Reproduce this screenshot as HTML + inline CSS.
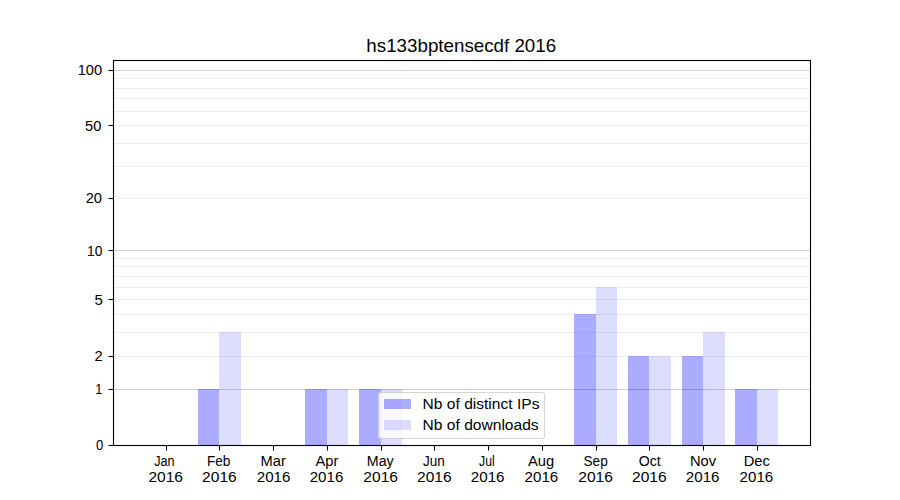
<!DOCTYPE html>
<html><head><meta charset="utf-8"><title>hs133bptensecdf 2016</title>
<style>html,body{margin:0;padding:0;background:#fff;overflow:hidden}svg{display:block}text{font-family:"Liberation Sans",sans-serif;fill:#000}</style></head><body>
<svg width="900" height="500" viewBox="0 0 900 500">
<rect x="0" y="0" width="900" height="500" fill="#ffffff"/>
<g stroke="#b0b0b0" stroke-width="1.11">
<line x1="112.5" y1="70.5" x2="810" y2="70.5" stroke-opacity="0.6"/>
<line x1="112.5" y1="250.5" x2="810" y2="250.5" stroke-opacity="0.6"/>
<line x1="112.5" y1="389.5" x2="810" y2="389.5" stroke-opacity="0.6"/>
<line x1="112.5" y1="78.5" x2="810" y2="78.5" stroke-opacity="0.2"/>
<line x1="112.5" y1="88.5" x2="810" y2="88.5" stroke-opacity="0.2"/>
<line x1="112.5" y1="98.5" x2="810" y2="98.5" stroke-opacity="0.2"/>
<line x1="112.5" y1="111.5" x2="810" y2="111.5" stroke-opacity="0.2"/>
<line x1="112.5" y1="125.5" x2="810" y2="125.5" stroke-opacity="0.2"/>
<line x1="112.5" y1="143.5" x2="810" y2="143.5" stroke-opacity="0.2"/>
<line x1="112.5" y1="166.5" x2="810" y2="166.5" stroke-opacity="0.2"/>
<line x1="112.5" y1="198.5" x2="810" y2="198.5" stroke-opacity="0.2"/>
<line x1="112.5" y1="258.5" x2="810" y2="258.5" stroke-opacity="0.2"/>
<line x1="112.5" y1="266.5" x2="810" y2="266.5" stroke-opacity="0.2"/>
<line x1="112.5" y1="276.5" x2="810" y2="276.5" stroke-opacity="0.2"/>
<line x1="112.5" y1="287.5" x2="810" y2="287.5" stroke-opacity="0.2"/>
<line x1="112.5" y1="299.5" x2="810" y2="299.5" stroke-opacity="0.2"/>
<line x1="112.5" y1="314.5" x2="810" y2="314.5" stroke-opacity="0.2"/>
<line x1="112.5" y1="332.5" x2="810" y2="332.5" stroke-opacity="0.2"/>
<line x1="112.5" y1="356.5" x2="810" y2="356.5" stroke-opacity="0.2"/>
</g>
<g shape-rendering="crispEdges" fill="#0000ff">
<rect x="198" y="389" width="21" height="56" fill-opacity="0.33"/>
<rect x="219" y="332" width="22" height="113" fill-opacity="0.133"/>
<rect x="305" y="389" width="22" height="56" fill-opacity="0.33"/>
<rect x="327" y="389" width="21" height="56" fill-opacity="0.133"/>
<rect x="359" y="389" width="22" height="56" fill-opacity="0.33"/>
<rect x="381" y="389" width="21" height="56" fill-opacity="0.133"/>
<rect x="574" y="314" width="22" height="131" fill-opacity="0.33"/>
<rect x="596" y="287" width="21" height="158" fill-opacity="0.133"/>
<rect x="628" y="356" width="21" height="89" fill-opacity="0.33"/>
<rect x="649" y="356" width="22" height="89" fill-opacity="0.133"/>
<rect x="682" y="356" width="21" height="89" fill-opacity="0.33"/>
<rect x="703" y="332" width="22" height="113" fill-opacity="0.133"/>
<rect x="735" y="389" width="22" height="56" fill-opacity="0.33"/>
<rect x="757" y="389" width="21" height="56" fill-opacity="0.133"/>
</g>
<rect x="113.5" y="60.5" width="697" height="385" fill="none" stroke="#000" stroke-width="1.11"/>
<g stroke="#000" stroke-width="1.11">
<line x1="108.5" y1="70.5" x2="113.5" y2="70.5"/>
<line x1="108.5" y1="125.5" x2="113.5" y2="125.5"/>
<line x1="108.5" y1="198.5" x2="113.5" y2="198.5"/>
<line x1="108.5" y1="250.5" x2="113.5" y2="250.5"/>
<line x1="108.5" y1="299.5" x2="113.5" y2="299.5"/>
<line x1="108.5" y1="356.5" x2="113.5" y2="356.5"/>
<line x1="108.5" y1="389.5" x2="113.5" y2="389.5"/>
<line x1="108.5" y1="445.5" x2="113.5" y2="445.5"/>
<line x1="166.5" y1="445.5" x2="166.5" y2="450.5"/>
<line x1="219.5" y1="445.5" x2="219.5" y2="450.5"/>
<line x1="273.5" y1="445.5" x2="273.5" y2="450.5"/>
<line x1="327.5" y1="445.5" x2="327.5" y2="450.5"/>
<line x1="381.5" y1="445.5" x2="381.5" y2="450.5"/>
<line x1="434.5" y1="445.5" x2="434.5" y2="450.5"/>
<line x1="488.5" y1="445.5" x2="488.5" y2="450.5"/>
<line x1="542.5" y1="445.5" x2="542.5" y2="450.5"/>
<line x1="596.5" y1="445.5" x2="596.5" y2="450.5"/>
<line x1="649.5" y1="445.5" x2="649.5" y2="450.5"/>
<line x1="703.5" y1="445.5" x2="703.5" y2="450.5"/>
<line x1="757.5" y1="445.5" x2="757.5" y2="450.5"/>
</g>
<rect x="378.5" y="392.5" width="166" height="46" rx="2.78" ry="2.78" fill="#ffffff" fill-opacity="0.8" stroke="#cccccc" stroke-opacity="0.8" stroke-width="1.11"/>
<g shape-rendering="crispEdges" fill="#0000ff">
<rect x="384" y="399" width="27" height="10" fill-opacity="0.33"/>
<rect x="384" y="420" width="27" height="10" fill-opacity="0.133"/>
</g>
<text x="461.25" y="52.20" font-size="17.67" text-anchor="middle" textLength="189.81" lengthAdjust="spacingAndGlyphs">hs133bptensecdf 2016</text>
<text x="103.20" y="450.00" font-size="14.72" text-anchor="end" textLength="7.27" lengthAdjust="spacingAndGlyphs">0</text>
<text x="102.40" y="393.66" font-size="14.72" text-anchor="end" textLength="7.13" lengthAdjust="spacingAndGlyphs">1</text>
<text x="102.80" y="360.70" font-size="14.72" text-anchor="end">2</text>
<text x="102.80" y="305.15" font-size="14.72" text-anchor="end" textLength="8.36" lengthAdjust="spacingAndGlyphs">5</text>
<text x="102.40" y="255.88" font-size="14.72" text-anchor="end" textLength="15.39" lengthAdjust="spacingAndGlyphs">10</text>
<text x="102.00" y="202.52" font-size="14.72" text-anchor="end">20</text>
<text x="101.30" y="131.19" font-size="14.72" text-anchor="end" textLength="16.26" lengthAdjust="spacingAndGlyphs">50</text>
<text x="102.10" y="74.85" font-size="14.72" text-anchor="end" textLength="24.37" lengthAdjust="spacingAndGlyphs">100</text>
<text x="164.40" y="466.00" font-size="14.72" text-anchor="middle" textLength="20.34" lengthAdjust="spacingAndGlyphs">Jan</text>
<text x="165.70" y="482.00" font-size="14.72" text-anchor="middle" textLength="34.65" lengthAdjust="spacingAndGlyphs">2016</text>
<text x="218.64" y="466.00" font-size="14.72" text-anchor="middle" textLength="23.46" lengthAdjust="spacingAndGlyphs">Feb</text>
<text x="219.44" y="482.00" font-size="14.72" text-anchor="middle" textLength="34.61" lengthAdjust="spacingAndGlyphs">2016</text>
<text x="273.17" y="466.00" font-size="14.72" text-anchor="middle">Mar</text>
<text x="273.57" y="482.00" font-size="14.72" text-anchor="middle" textLength="33.67" lengthAdjust="spacingAndGlyphs">2016</text>
<text x="326.91" y="466.00" font-size="14.72" text-anchor="middle">Apr</text>
<text x="326.51" y="482.00" font-size="14.72" text-anchor="middle" textLength="33.67" lengthAdjust="spacingAndGlyphs">2016</text>
<text x="380.25" y="466.00" font-size="14.72" text-anchor="middle" textLength="26.88" lengthAdjust="spacingAndGlyphs">May</text>
<text x="380.65" y="482.00" font-size="14.72" text-anchor="middle" textLength="34.65" lengthAdjust="spacingAndGlyphs">2016</text>
<text x="433.88" y="466.00" font-size="14.72" text-anchor="middle" textLength="21.81" lengthAdjust="spacingAndGlyphs">Jun</text>
<text x="434.38" y="482.00" font-size="14.72" text-anchor="middle" textLength="34.61" lengthAdjust="spacingAndGlyphs">2016</text>
<text x="486.92" y="466.00" font-size="14.72" text-anchor="middle" textLength="15.62" lengthAdjust="spacingAndGlyphs">Jul</text>
<text x="487.72" y="482.00" font-size="14.72" text-anchor="middle" textLength="33.67" lengthAdjust="spacingAndGlyphs">2016</text>
<text x="541.05" y="466.00" font-size="14.72" text-anchor="middle">Aug</text>
<text x="541.45" y="482.00" font-size="14.72" text-anchor="middle" textLength="33.67" lengthAdjust="spacingAndGlyphs">2016</text>
<text x="595.59" y="466.00" font-size="14.72" text-anchor="middle" textLength="24.31" lengthAdjust="spacingAndGlyphs">Sep</text>
<text x="595.59" y="482.00" font-size="14.72" text-anchor="middle" textLength="34.65" lengthAdjust="spacingAndGlyphs">2016</text>
<text x="649.73" y="466.00" font-size="14.72" text-anchor="middle" textLength="22.00" lengthAdjust="spacingAndGlyphs">Oct</text>
<text x="649.33" y="482.00" font-size="14.72" text-anchor="middle" textLength="34.61" lengthAdjust="spacingAndGlyphs">2016</text>
<text x="703.06" y="466.00" font-size="14.72" text-anchor="middle">Nov</text>
<text x="702.66" y="482.00" font-size="14.72" text-anchor="middle" textLength="33.67" lengthAdjust="spacingAndGlyphs">2016</text>
<text x="756.80" y="466.00" font-size="14.72" text-anchor="middle">Dec</text>
<text x="756.40" y="482.00" font-size="14.72" text-anchor="middle" textLength="33.67" lengthAdjust="spacingAndGlyphs">2016</text>
<text x="422.60" y="409.00" font-size="14.72" text-anchor="start" textLength="116.83" lengthAdjust="spacingAndGlyphs">Nb of distinct IPs</text>
<text x="422.60" y="430.00" font-size="14.72" text-anchor="start" textLength="116.05" lengthAdjust="spacingAndGlyphs">Nb of downloads</text>
</svg>
</body></html>
